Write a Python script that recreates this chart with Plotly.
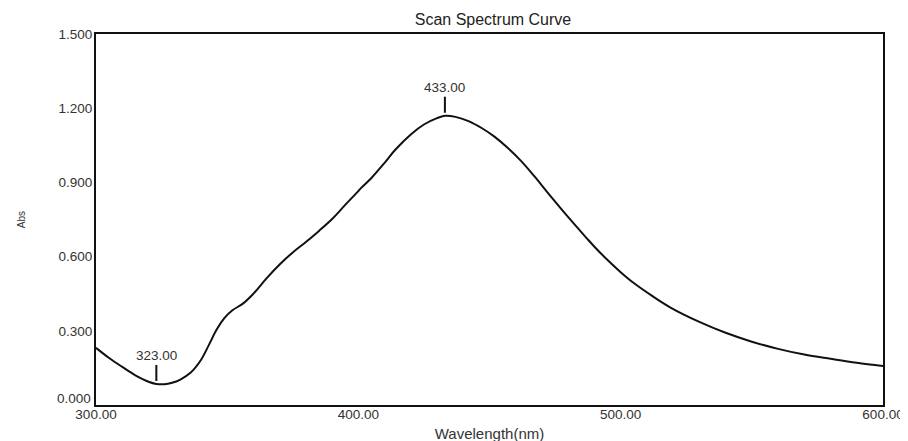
import plotly.graph_objects as go

wavelength = [300, 305, 310, 315, 320, 323, 326, 329, 332, 336, 340, 343, 346, 349, 352, 356,
              360, 365, 370, 375, 380, 385, 390, 395, 400, 401, 405, 410, 414, 420, 425, 430,
              433, 437, 442, 447, 452, 457, 462, 467, 472, 477, 482, 487, 490, 495, 500, 505,
              512, 519, 530, 540, 550, 560, 570, 580, 590, 600]
absorbance = [0.231, 0.190, 0.154, 0.120, 0.094, 0.085, 0.084, 0.090, 0.102, 0.130, 0.182,
              0.242, 0.305, 0.352, 0.383, 0.410, 0.450, 0.512, 0.568, 0.617, 0.659, 0.704,
              0.752, 0.809, 0.865, 0.877, 0.918, 0.979, 1.031, 1.094, 1.134, 1.160, 1.169,
              1.165, 1.148, 1.120, 1.084, 1.039, 0.987, 0.926, 0.861, 0.797, 0.735, 0.675,
              0.640, 0.586, 0.537, 0.493, 0.441, 0.394, 0.336, 0.292, 0.256, 0.227, 0.204,
              0.187, 0.171, 0.158]

peak_labels = ["433.00", "323.00"]
peak_wl = [433, 323]
peak_abs = [1.169, 0.085]

x_ticks = [300, 400, 500, 600]
x_tick_text = ["300.00", "400.00", "500.00", "600.00"]
y_ticks = [0.0, 0.3, 0.6, 0.9, 1.2, 1.5]
y_tick_text = ["0.000", "0.300", "0.600", "0.900", "1.200", "1.500"]

FONT = "Liberation Sans, Arial, sans-serif"
OFF = 8  # default page body margin offsets the figure inside the window

fig = go.Figure()
fig.add_trace(go.Scatter(x=wavelength, y=absorbance, mode="lines",
                         line=dict(color="#111111", width=2, shape="spline", smoothing=1.0),
                         showlegend=False, hoverinfo="x+y"))

for lab, wx, wy in zip(peak_labels, peak_wl, peak_abs):
    fig.add_annotation(x=wx, y=wy, text=lab, showarrow=True, arrowhead=0,
                       arrowwidth=2, arrowcolor="#111111", ax=0, ay=-28, standoff=3,
                       font=dict(family=FONT, size=13.5, color="#333333"))

# bottom y label is drawn slightly raised (as in the original instrument printout)
shown_y_text = [t if v != y_ticks[0] else "" for v, t in zip(y_ticks, y_tick_text)]
fig.add_annotation(xref="paper", x=0, yref="y", y=y_ticks[0], text=y_tick_text[0],
                   showarrow=False, xanchor="right", yanchor="middle", xshift=-3, yshift=7,
                   font=dict(family=FONT, size=13.5, color="#333333"))

W, H = 908, 441
fig.update_layout(
    width=W, height=H,
    margin=dict(l=96 - OFF, r=W - (883 - OFF), t=34 - OFF, b=H - (405 - OFF), autoexpand=False),
    paper_bgcolor="white", plot_bgcolor="white",
    title=dict(text="Scan Spectrum Curve", x=(493 - OFF) / W, xanchor="center",
               y=1 - (19 - OFF) / H, yanchor="middle", automargin=False,
               font=dict(family=FONT, size=16, color="#222222")),
    font=dict(family=FONT, size=13.5, color="#333333"),
)
fig.update_xaxes(range=[300, 600], tickvals=x_ticks, ticktext=x_tick_text,
                 showgrid=False, zeroline=False, showline=True, linecolor="#111111",
                 linewidth=2, mirror=True, ticks="", ticklabelstandoff=-4, automargin=False,
                 title=dict(text="Wavelength(nm)", standoff=7,
                            font=dict(family=FONT, size=15, color="#333333")))
fig.update_yaxes(range=[0, 1.5], tickvals=y_ticks, ticktext=shown_y_text,
                 showgrid=False, zeroline=False, showline=True, linecolor="#111111",
                 linewidth=2, mirror=True, ticks="", ticklabelstandoff=-1, automargin=False,
                 title=dict(text="Abs", standoff=31,
                            font=dict(family=FONT, size=10, color="#333333")))

fig.write_html("out.html")
